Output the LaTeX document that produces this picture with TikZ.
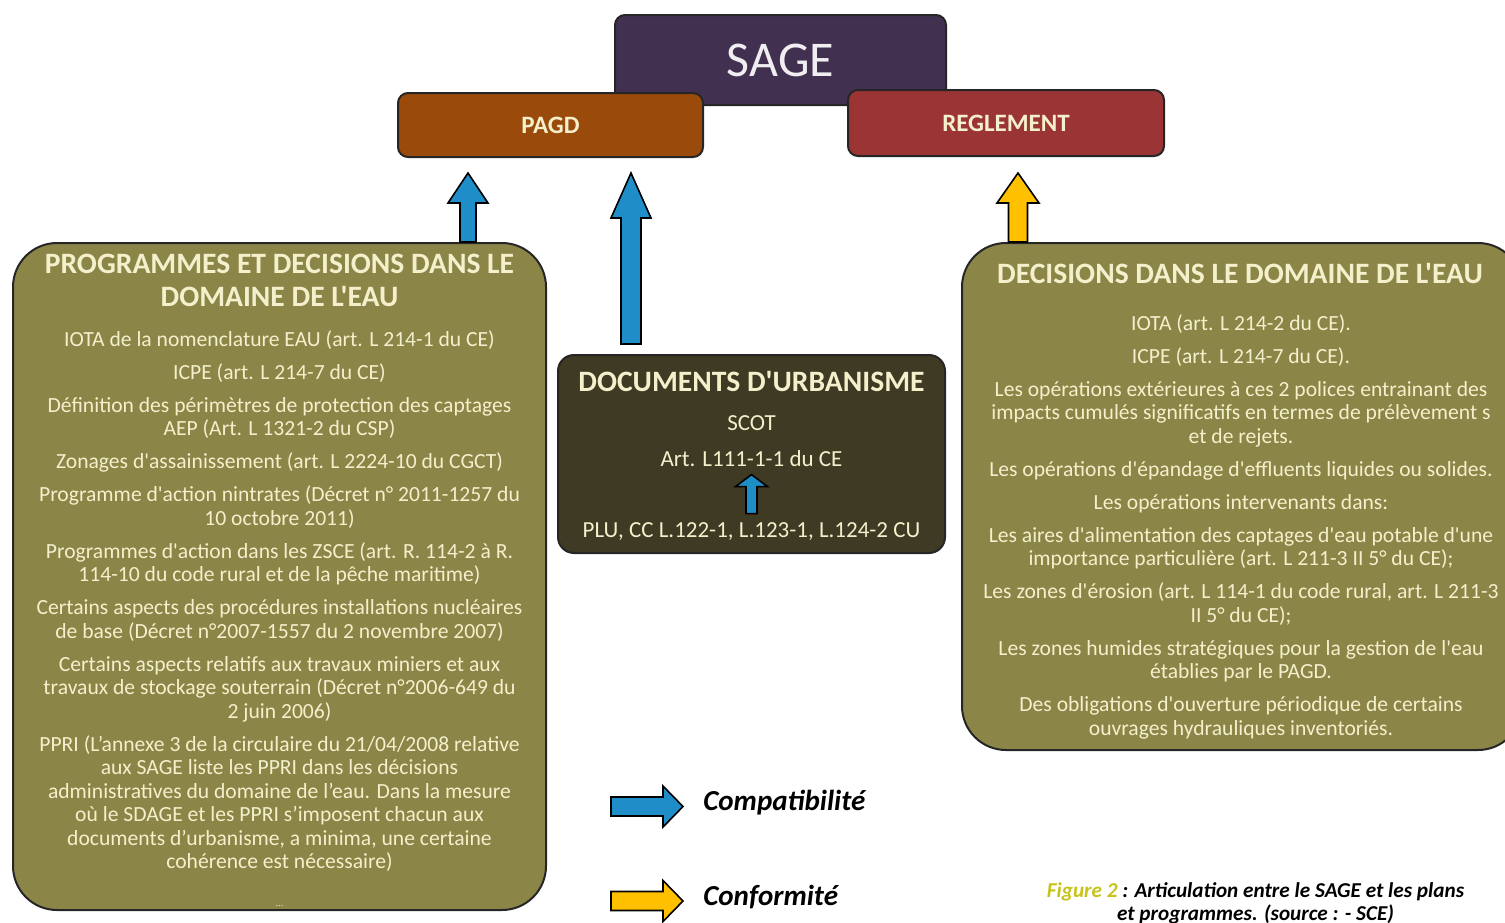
\documentclass[tikz,border=0pt]{standalone}
\usepackage{fontspec}
\setmainfont{Carlito}[Ligatures=TeXOff]
\usepackage{tikz}
\usetikzlibrary{calc}
\definecolor{sagepurple}{HTML}{41304F}
\definecolor{pagdbrown}{HTML}{9A4A0A}
\definecolor{reglred}{HTML}{9B3434}
\definecolor{eauolive}{HTML}{8C8548}
\definecolor{urbadark}{HTML}{3E3A23}
\definecolor{cremetxt}{HTML}{F4F0CC}
\definecolor{compblue}{HTML}{1E8DC8}
\definecolor{confyellow}{HTML}{FFC000}
\definecolor{figyellow}{HTML}{C8C21C}
\newcommand{\vblock}[6]{%
  \draw[fleche,fill=#6] let \p1=(#1), \p2=(#2) in
    (\x1-#3,\y1) -- (\x1-#3,\y2-#5) -- (\x1-#4,\y2-#5) -- (\x1,\y2)
    -- (\x1+#4,\y2-#5) -- (\x1+#3,\y2-#5) -- (\x1+#3,\y1) -- cycle;}
\newcommand{\hblock}[6]{%
  \draw[fleche,fill=#6] let \p1=(#1), \p2=(#2) in
    (\x1,\y1-#3) -- (\x2-#5,\y1-#3) -- (\x2-#5,\y1-#4) -- (\x2,\y1)
    -- (\x2-#5,\y1+#4) -- (\x2-#5,\y1+#3) -- (\x1,\y1+#3) -- cycle;}

\begin{document}
\begin{tikzpicture}[x=0.5pt,y=-0.5pt]
      \tikzstyle{cadre}=[draw=black!85,line width=1pt,inner sep=0pt,
			 rounded corners=5pt]
      \tikzstyle{etiq}=[text=cremetxt,font=\fontsize{12.5}{15}\selectfont\bfseries]
      \tikzstyle{titre}=[text=cremetxt,inner sep=0pt,align=center,
			 font=\fontsize{14.8}{16.5}\selectfont\bfseries]
      \tikzstyle{corps}=[text=cremetxt,inner sep=0pt,align=center,
			 font=\fontsize{10.8}{11.75}\selectfont]
      \tikzstyle{urbacorps}=[corps,font=\fontsize{11.5}{13}\selectfont]
      \tikzstyle{legende}=[inner sep=0pt,font=\fontsize{14.5}{17}\selectfont\bfseries\itshape]
      \tikzstyle{fleche}=[draw=black,line width=0.8pt,line join=miter]
      \clip (0,0) rectangle (1505,922);

      \node[cadre,fill=sagepurple,minimum width=165.5pt,minimum height=45pt,
	    text=white!92!sagepurple,font=\fontsize{25}{30}\selectfont] (sage) at (780.5,60) {SAGE};
      \node[cadre,fill=pagdbrown,minimum width=152.5pt,minimum height=32pt,etiq] (pagd) at (550.5,125) {PAGD};
      \node[cadre,fill=reglred,minimum width=158pt,minimum height=33pt,etiq] (regl) at (1006,123) {REGLEMENT};

      \node[cadre,fill=eauolive,rounded corners=22pt,minimum width=266.5pt,
	    minimum height=333.5pt] (prog) at (279.5,576.5) {};
      \node[cadre,fill=eauolive,rounded corners=22pt,minimum width=280pt,
	    minimum height=253.5pt] (deci) at (1242,496.5) {};
      \node[cadre,fill=urbadark,rounded corners=8pt,minimum width=193.5pt,
	    minimum height=99pt] (urba) at (751.5,454) {};

      \node[titre,anchor=north] (progtitre) at (279.5,250) {\strut PROGRAMMES ET DECISIONS DANS LE\\DOMAINE DE L'EAU};
      \node[corps,anchor=north] (progcorps) at (279.5,329.5) {\strut IOTA de la nomenclature EAU (art. L 214-1 du CE)\\[4.75pt]
	ICPE (art. L 214-7 du CE)\\[4.75pt]
	Définition des périmètres de protection des captages\\AEP (Art. L 1321-2 du CSP)\\[4.75pt]
	Zonages d'assainissement (art. L 2224-10 du CGCT)\\[4.75pt]
	Programme d'action nintrates (Décret n° 2011-1257 du\\10 octobre 2011)\\[4.75pt]
	Programmes d'action dans les ZSCE (art. R. 114-2 à R.\\114-10 du code rural et de la pêche maritime)\\[4.75pt]
	Certains aspects des procédures installations nucléaires\\de base (Décret n°2007-1557 du 2 novembre 2007)\\[4.75pt]
	Certains aspects relatifs aux travaux miniers et aux\\travaux de stockage souterrain (Décret n°2006-649 du\\2 juin 2006)\\[4.75pt]
	PPRI (L’annexe 3 de la circulaire du 21/04/2008 relative\\aux SAGE liste les PPRI dans les décisions\\administratives du domaine de l’eau. Dans la mesure\\où le SDAGE et les PPRI s’imposent chacun aux\\documents d’urbanisme, a minima, une certaine\\cohérence est nécessaire)\\[7pt]
	{\tiny ...}};

      \node[titre,anchor=base] (decititre) at (1240,283) {DECISIONS DANS LE DOMAINE DE L'EAU};
      \node[corps,anchor=north] (decicorps) at (1241,313.5) {\strut IOTA (art. L 214-2 du CE).\\[4.75pt]
	ICPE (art. L 214-7 du CE).\\[4.75pt]
	Les opérations extérieures à ces 2 polices entrainant des\\impacts cumulés significatifs en termes de prélèvement s\\et de rejets.\\[4.75pt]
	Les opérations d'épandage d'effluents liquides ou solides.\\[4.75pt]
	Les opérations intervenants dans:\\[4.75pt]
	Les aires d'alimentation des captages d'eau potable d'une\\importance particulière (art. L 211-3 II 5° du CE);\\[4.75pt]
	Les zones d'érosion (art. L 114-1 du code rural, art. L 211-3\\II 5° du CE);\\[4.75pt]
	Les zones humides stratégiques pour la gestion de l'eau\\établies par le PAGD.\\[4.75pt]
	Des obligations d'ouverture périodique de certains\\ouvrages hydrauliques inventoriés.};

      \node[titre,anchor=base] (urbatitre) at (751.5,391) {DOCUMENTS D'URBANISME};
      \node[urbacorps,anchor=base] (scot) at (751.5,430) {SCOT};
      \node[urbacorps,anchor=base] (art) at (751.5,466) {Art. L111-1-1 du CE};
      \node[urbacorps,anchor=base] (plu) at (751.5,537) {PLU, CC L.122-1, L.123-1, L.124-2 CU};

      \coordinate (colA) at (468,0);
      \coordinate (colB) at (631,0);
      \coordinate (colC) at (1018,0);
      \vblock{prog.north -| colA}{$(pagd.south -| colA)+(0,15)$}{4pt}{10pt}{15pt}{compblue}
      \vblock{$(urba.north -| colB)+(0,-10)$}{$(pagd.south -| colB)+(0,15)$}{5pt}{10pt}{22.5pt}{compblue}
      \vblock{deci.north -| colC}{$(regl.south -| colC)+(0,16)$}{4.75pt}{10.5pt}{15pt}{confyellow}
      \vblock{$(plu.north -| urba.center)+(0,-8)$}{$(art.south -| urba.center)+(0,8)$}{2.75pt}{8pt}{6pt}{compblue}

      \coordinate (lgbleu) at (611,806.5);
      \coordinate (lgjaune) at (611,901);
      \node[legende,anchor=base west] (compat) at (703,810) {Compatibilité};
      \node[legende,anchor=base west] (conform) at (703,905) {Conformité};
      \hblock{lgbleu}{$(compat.west |- lgbleu)+(-20,0)$}{4.75pt}{10.25pt}{10pt}{compblue}
      \hblock{lgjaune}{$(conform.west |- lgjaune)+(-20,0)$}{4.75pt}{10.25pt}{10pt}{confyellow}

      \node[inner sep=0pt,align=center,anchor=north,font=\fontsize{10.6}{11.5}\selectfont\bfseries\itshape]
	(legendefig) at (1255.5,881) {\strut\textcolor{figyellow}{Figure 2} : Articulation entre le SAGE et les plans\\et programmes. (source : - SCE)};
  \end{tikzpicture}
\end{document}
